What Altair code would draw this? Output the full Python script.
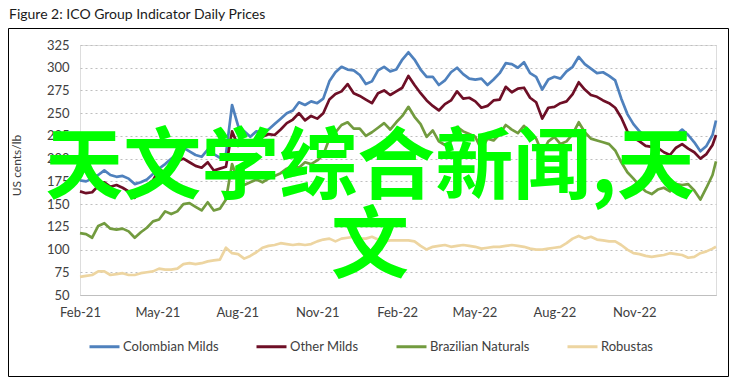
import altair as alt
import pandas as pd

title_text = "Figure 2: ICO Group Indicator Daily Prices"
y_title = "US cents/lb"
overlay_text = "天文学综合新闻,天\n文"

series_names = ["Colombian Milds", "Other Milds", "Brazilian Naturals", "Robustas"]
series_colors = ["#4F81BD", "#6E0F26", "#729B3F", "#EDD5A1"]

# weekly readings from 2021-02-01, plus the last day shown
dates = [d.strftime("%Y-%m-%d") for d in pd.date_range("2021-02-01", periods=105, freq="7D")] + ["2023-02-03"]

colombian = [
    176, 175, 178, 182, 187, 182, 180, 181, 178, 172,
    174, 177, 183, 189, 194, 200, 206, 212, 208, 204,
    202, 210, 205, 201, 205, 259, 236, 230, 224, 230,
    229, 232, 238, 244, 250, 253, 262, 259, 263, 261,
    266, 285, 295, 301, 298, 297, 292, 282, 285, 297,
    301, 296, 298, 309, 317, 309, 298, 290, 290, 281,
    286, 295, 300, 293, 288, 287, 288, 281, 287, 294,
    305, 304, 300, 306, 294, 290, 276, 287, 290, 288,
    296, 301, 312, 304, 299, 294, 295, 291, 286, 266,
    249, 238, 230, 224, 220, 223, 221, 227, 226, 232,
    226, 218, 208, 214, 226, 242,
]
other_milds = [
    164, 162, 163, 170, 174, 169, 171, 168, 164, 157,
    166, 171, 176, 188, 185, 189, 197, 200, 196, 192,
    190, 196, 187, 189, 191, 230, 214, 219, 215, 219,
    224, 227, 226, 232, 239, 243, 250, 242, 247, 244,
    250, 265, 271, 274, 282, 272, 269, 265, 261, 272,
    275, 270, 274, 278, 291, 281, 272, 264, 258, 253,
    260, 264, 274, 266, 267, 263, 256, 258, 264, 265,
    279, 273, 277, 278, 267, 262, 244, 256, 257, 261,
    263, 271, 284, 276, 270, 268, 264, 261, 256, 245,
    230, 223, 219, 214, 213, 212, 207, 204, 212, 216,
    211, 207, 200, 205, 215, 226,
]
brazilian = [
    118, 117, 113, 126, 129, 123, 122, 123, 120, 113,
    119, 124, 131, 133, 142, 139, 142, 150, 151, 147,
    143, 152, 143, 145, 155, 194, 176, 171, 174, 177,
    174, 178, 181, 184, 189, 192, 190, 196, 194, 198,
    204, 222, 229, 237, 240, 233, 233, 225, 229, 234,
    239, 232, 240, 247, 257, 246, 238, 224, 231, 219,
    215, 219, 235, 230, 227, 224, 210, 222, 220, 227,
    237, 232, 228, 236, 229, 222, 206, 219, 224, 216,
    219, 227, 240, 229, 222, 220, 218, 216, 209, 196,
    185, 178, 170, 164, 161, 166, 168, 164, 172, 171,
    172, 165, 155, 168, 182, 197,
]
robustas = [
    70, 71, 72, 76, 76, 72, 73, 74, 72, 72,
    74, 75, 76, 79, 78, 78, 79, 84, 85, 84,
    85, 87, 88, 89, 102, 96, 95, 90, 93, 97,
    102, 104, 105, 107, 106, 105, 106, 105, 106, 109,
    111, 112, 109, 112, 113, 114, 112, 112, 114, 111,
    109, 110, 110, 110, 110, 109, 104, 100, 103, 104,
    105, 103, 104, 105, 104, 103, 101, 102, 103, 103,
    104, 105, 104, 103, 101, 100, 100, 101, 102, 103,
    107, 112, 115, 112, 114, 111, 110, 109, 109, 105,
    100, 96, 95, 93, 92, 93, 94, 96, 95, 94,
    91, 92, 96, 98, 101, 103,
]

y_ticks = [50, 75, 100, 125, 150, 175, 200, 225, 250, 275, 300, 325]
x_tick_months = [(2021, 2), (2021, 5), (2021, 8), (2021, 11), (2022, 2), (2022, 5), (2022, 8), (2022, 11)]

rows = []
for name, vals in zip(series_names, [colombian, other_milds, brazilian, robustas]):
    for d, v in zip(dates, vals):
        rows.append({"date": d, "series": name, "price": v})
df = pd.DataFrame(rows)

FONT = "Lato"
TXT = "#404040"

x_enc = alt.X(
    "date:T",
    scale=alt.Scale(
        type="utc",
        domain=[alt.DateTime(year=2021, month=2, date=1, utc=True),
                alt.DateTime(year=2023, month=2, date=3, utc=True)],
    ),
    axis=alt.Axis(
        values=[alt.DateTime(year=y, month=m, date=1, utc=True) for y, m in x_tick_months],
        format="%b-%y",
        title=None,
        grid=False,
        ticks=False,
        domain=True,
        domainColor="#BFBFBF",
        domainWidth=1.2,
        labelFont=FONT,
        labelFontSize=13,
        labelColor=TXT,
        labelPadding=11,
        labelFlush=False,
        labelOverlap=False,
    ),
)
y_enc = alt.Y(
    "price:Q",
    scale=alt.Scale(domain=[50, 325], nice=False, zero=False),
    axis=alt.Axis(
        values=y_ticks,
        title=y_title,
        titleFont=FONT,
        titleFontSize=12,
        titleFontWeight="normal",
        titleColor=TXT,
        titleAngle=270,
        titleAlign="center",
        titleBaseline="middle",
        titleX=-64,
        titleY=120,
        domain=False,
        ticks=False,
        grid=True,
        gridDash=[2, 3],
        gridColor="#BFBFBF",
        gridWidth=1.2,
        labelFont=FONT,
        labelFontSize=13,
        labelColor=TXT,
        labelPadding=11,
    ),
)

lines = alt.Chart(df).mark_line(strokeWidth=2.7, strokeJoin="round").encode(
    x=x_enc,
    y=y_enc,
    color=alt.Color(
        "series:N",
        scale=alt.Scale(domain=series_names, range=series_colors),
        legend=alt.Legend(
            title=None,
            orient="none",
            legendX=8,
            legendY=285,
            direction="horizontal",
            symbolType="stroke",
            symbolSize=900,
            symbolStrokeWidth=3,
            labelFont=FONT,
            labelFontSize=13,
            labelColor=TXT,
            labelOffset=2,
            columnPadding=31,
        ),
    ),
    order=alt.Order("date:T"),
)

one = pd.DataFrame({"a": [0]})
L, R, T, B = -71.5, 648.5, -16.5, 331.5
frame_top = alt.Chart(one).mark_rule(color="#000000", strokeWidth=1).encode(
    x=alt.value(L), x2=alt.value(R), y=alt.value(T))
frame_bottom = alt.Chart(one).mark_rule(color="#000000", strokeWidth=1).encode(
    x=alt.value(L), x2=alt.value(R), y=alt.value(B))
frame_left = alt.Chart(one).mark_rule(color="#000000", strokeWidth=1).encode(
    x=alt.value(L), y=alt.value(T), y2=alt.value(B))
frame_right = alt.Chart(one).mark_rule(color="#000000", strokeWidth=1).encode(
    x=alt.value(R), y=alt.value(T), y2=alt.value(B))

title_mark = alt.Chart(pd.DataFrame({"t": [title_text]})).mark_text(
    font=FONT, fontSize=14, color="#1A1A1A", align="left", baseline="alphabetic"
).encode(text="t:N", x=alt.value(-71), y=alt.value(-26))

overlay = alt.Chart(pd.DataFrame({"t": [overlay_text]})).mark_text(
    font="Noto Sans CJK SC",
    fontSize=78,
    fontWeight="bold",
    color="#00FF00",
    align="center",
    baseline="alphabetic",
    lineBreak="\n",
    lineHeight=79,
).encode(text="t:N", x=alt.value(290), y=alt.value(148))

chart = alt.layer(
    lines, frame_top, frame_bottom, frame_left, frame_right, title_mark, overlay
).properties(
    width=636,
    height=250,
    padding={"left": 72, "top": 37, "right": 21, "bottom": 83},
    autosize=alt.AutoSizeParams(type="none"),
).configure_view(stroke=None).configure(background="white")

chart.save("out.html", embed_options={"renderer": "svg", "actions": False})
